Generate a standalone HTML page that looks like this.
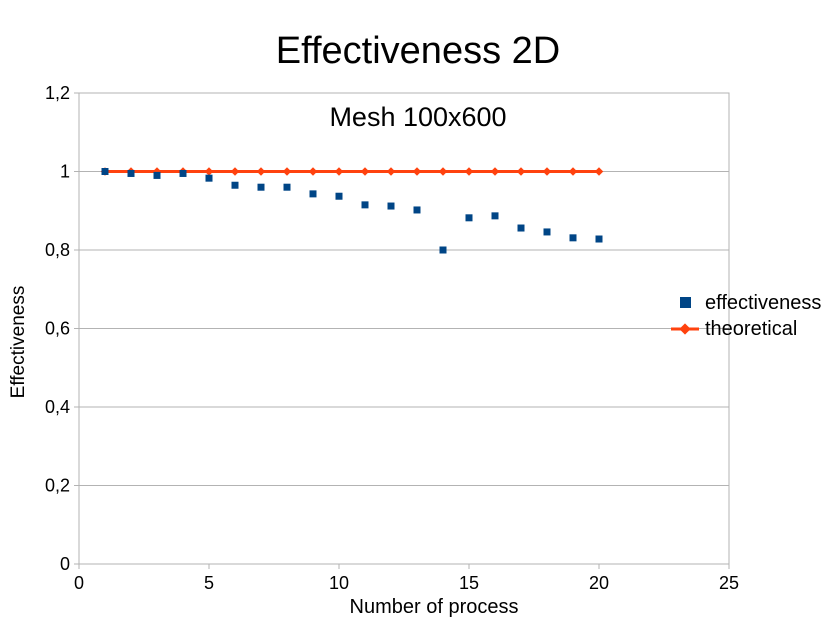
<!DOCTYPE html>
<html><head><meta charset="utf-8"><style>
body{margin:0;background:#fff;}
svg text{font-family:"Liberation Sans",sans-serif;}
</style></head><body>
<svg id="chart" width="836" height="633" xmlns="http://www.w3.org/2000/svg">
<text x="418" y="63" font-size="38" text-anchor="middle">Effectiveness 2D</text>
<text x="418" y="126" font-size="27" text-anchor="middle">Mesh 100x600</text>
<g id="grid"></g><g id="axes"></g><g id="marks"></g>
<text x="434" y="613" font-size="20" text-anchor="middle">Number of process</text>
<text transform="translate(24,342) rotate(-90)" font-size="19" text-anchor="middle">Effectiveness</text>
<g>
<rect x="680" y="297" width="11" height="11" fill="#004586"/>
<text x="705" y="309" font-size="20">effectiveness</text>
<line x1="671" y1="329" x2="699" y2="329" stroke="#ff420e" stroke-width="3"/>
<rect x="681" y="325" width="8" height="8" fill="#ff420e" transform="rotate(45 685 329)"/>
<text x="705" y="335" font-size="20">theoretical</text>
</g>
</svg>
<script>
const xs=[1,2,3,4,5,6,7,8,9,10,11,12,13,14,15,16,17,18,19,20];
const eff=[1.0,0.995,0.99,0.995,0.983,0.965,0.96,0.96,0.943,0.937,0.915,0.912,0.902,0.80,0.882,0.887,0.856,0.846,0.831,0.828];
const theo=[1,1,1,1,1,1,1,1,1,1,1,1,1,1,1,1,1,1,1,1];
const yTicks=["0","0,2","0,4","0,6","0,8","1","1,2"];
const xTicks=[0,5,10,15,20,25];
const NS="http://www.w3.org/2000/svg";
const X=v=>79+v*26, Y=v=>564-v*392.5;
function mk(t,a,p){const e=document.createElementNS(NS,t);for(const k in a)e.setAttribute(k,a[k]);p.appendChild(e);return e;}
const grid=document.getElementById('grid'),axes=document.getElementById('axes'),marks=document.getElementById('marks');
yTicks.forEach((l,i)=>{const v=i*0.2;
const g=mk('line',{x1:X(0),x2:X(25),y1:Y(v),y2:Y(v),stroke:'#b3b3b3','stroke-width':1},grid);

mk('line',{x1:X(0)-5,x2:X(0),y1:Y(v),y2:Y(v),stroke:'#b3b3b3'},axes);
const t=mk('text',{x:X(0)-9,y:Y(v)+6,'font-size':18,'text-anchor':'end'},axes);t.textContent=l;
});
xTicks.forEach(v=>{mk('line',{x1:X(v),x2:X(v),y1:Y(0),y2:Y(0)+5,stroke:'#b3b3b3'},axes);
const t=mk('text',{x:X(v),y:Y(0)+25,'font-size':18,'text-anchor':'middle'},axes);t.textContent=v;
});
mk('rect',{x:X(0),y:Y(1.2),width:X(25)-X(0),height:Y(0)-Y(1.2),fill:'none',stroke:'#b3b3b3'},axes);
const pl=mk('polyline',{points:xs.map((x,i)=>X(x)+','+Y(theo[i])).join(' '),fill:'none',stroke:'#ff420e','stroke-width':3},marks);

xs.forEach((x,i)=>{const d=mk('rect',{x:X(x)-3,y:Y(theo[i])-3,width:6,height:6,fill:'#ff420e',transform:`rotate(45 ${X(x)} ${Y(theo[i])})`},marks);
});
xs.forEach((x,i)=>{const r=mk('rect',{x:X(x)-3.5,y:Y(eff[i])-3.5,width:7,height:7,fill:'#004586'},marks);
});
</script>
</body></html>
